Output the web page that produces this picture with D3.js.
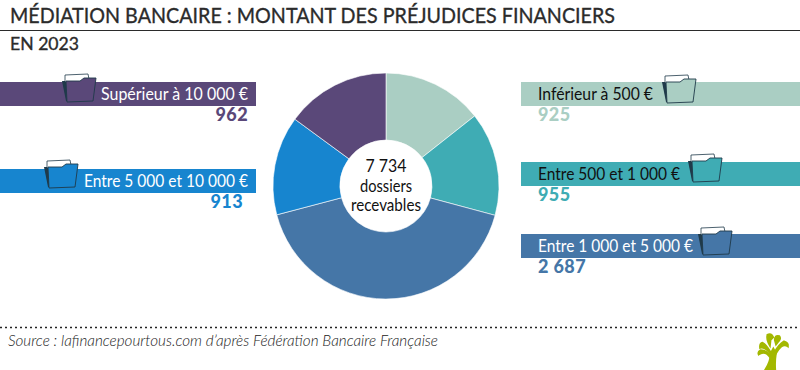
<!DOCTYPE html>
<html>
<head>
<meta charset="utf-8">
<script src="https://cdn.jsdelivr.net/npm/d3@7"></script>
<style>
  html, body { margin: 0; padding: 0; background: #fff; }
  svg { display: block; }
  text { font-family: Lato, "Open Sans", sans-serif; }
</style>
</head>
<body>
<script>
// tranches, in pie order (clockwise from 12 o'clock)
var categories = ["Inférieur à 500 €", "Entre 500 et 1 000 €", "Entre 1 000 et 5 000 €", "Entre 5 000 et 10 000 €", "Supérieur à 10 000 €"];
var values = [925, 955, 2687, 913, 962];
var valueLabels = ["925", "955", "2 687", "913", "962"];
var colors = ["#aacec3", "#3facb4", "#4576a7", "#1785cf", "#5a4879"];
var inkColors = ["#111", "#111", "#fff", "#fff", "#fff"];
var centerLines = ["7 734", "dossiers", "recevables"];

var width = 800, height = 370;

var svg = d3.select("body").append("svg")
    .attr("width", width)
    .attr("height", height);

// title block
svg.append("text")
    .attr("x", 10).attr("y", 23)
    .attr("textLength", 605).attr("lengthAdjust", "spacingAndGlyphs")
    .style("font-size", "22px").style("fill", "#2b2b2b")
    .style("stroke", "#2b2b2b").style("stroke-width", 0.35)
    .text("MÉDIATION BANCAIRE : MONTANT DES PRÉJUDICES FINANCIERS");
svg.append("line")
    .attr("x1", 0).attr("x2", width).attr("y1", 30.5).attr("y2", 30.5)
    .style("stroke", "#2b2b2b").style("stroke-width", 1);
svg.append("text")
    .attr("x", 10).attr("y", 50)
    .attr("textLength", 69).attr("lengthAdjust", "spacingAndGlyphs")
    .style("font-size", "18px").style("fill", "#2b2b2b")
    .style("stroke", "#2b2b2b").style("stroke-width", 0.35)
    .text("EN 2023");

// donut
var pie = d3.pie().sort(null).value(function(d) { return d; });
var arc = d3.arc().innerRadius(46).outerRadius(113);

var donut = svg.append("g").attr("transform", "translate(386,186)");

donut.selectAll("path")
    .data(pie(values))
  .enter().append("path")
    .attr("d", arc)
    .style("fill", function(d, i) { return colors[i]; })
    .style("stroke", "#fff")
    .style("stroke-width", 0.6);

var centerY = [-14, 6, 25], centerW = [41, 52, 70];
donut.selectAll("text")
    .data(centerLines)
  .enter().append("text")
    .attr("text-anchor", "middle")
    .attr("y", function(d, i) { return centerY[i]; })
    .attr("textLength", function(d, i) { return centerW[i]; })
    .attr("lengthAdjust", "spacingAndGlyphs")
    .style("font-size", "17.5px")
    .style("fill", "#111")
    .text(function(d) { return d; });

// legend rows: index into the arrays, and where the row sits
var rows = [
  { i: 4, left: true,  y: 82,  barW: 256, textX: 248, textW: 147, valX: 248, folderX: 62,  folderY: 74 },
  { i: 3, left: true,  y: 169, barW: 256, textX: 248, textW: 164, valX: 243, folderX: 44,  folderY: 160 },
  { i: 0, left: false, y: 82,  barW: 279, textX: 538, textW: 115, valX: 538, folderX: 662, folderY: 75 },
  { i: 1, left: false, y: 162, barW: 279, textX: 538, textW: 142, valX: 538, folderX: 688, folderY: 154 },
  { i: 2, left: false, y: 234, barW: 279, textX: 538, textW: 155, valX: 538, folderX: 698, folderY: 227 }
];

rows.forEach(function(r) {
  var anchor = r.left ? "end" : "start";

  svg.append("rect")
      .attr("x", r.left ? 0 : 521)
      .attr("y", r.y)
      .attr("width", r.barW)
      .attr("height", 24)
      .style("fill", colors[r.i]);

  svg.append("text")
      .attr("x", r.textX).attr("y", r.y + 18)
      .attr("text-anchor", anchor)
      .attr("textLength", r.textW).attr("lengthAdjust", "spacingAndGlyphs")
      .style("font-size", "16.5px")
      .style("fill", inkColors[r.i])
      .text(categories[r.i]);

  svg.append("text")
      .attr("x", r.valX).attr("y", r.y + 39)
      .attr("text-anchor", anchor)
      .style("font-size", "18px")
      .style("font-weight", 900)
      .style("letter-spacing", "0.4px")
      .style("fill", colors[r.i])
      .text(valueLabels[r.i]);

  // little open folder sitting on the bar
  var f = svg.append("g").attr("transform", "translate(" + r.folderX + "," + r.folderY + ")");
  f.append("path").attr("d", "M0,7 L4,27 L6,27 L4,7 Z").style("fill", "#1f3a4a");
  f.append("path").attr("d", "M3,8 L3,1 L26,0 L27,5 L20,8 Z")
      .style("fill", "#fff").style("stroke", "#1f3a4a").style("stroke-width", 0.8);
  f.append("path").attr("d", "M4,7 L18,7 L22,4 L34,4 L31,27 L5,28 Z")
      .style("fill", colors[r.i]).style("stroke", "#1f3a4a").style("stroke-width", 0.9);
});

// source + dotted rule
svg.append("line")
    .attr("x1", 0).attr("x2", width).attr("y1", 327.5).attr("y2", 327.5)
    .style("stroke", "#222").style("stroke-width", 1.5).style("stroke-dasharray", "2,3");
svg.append("text")
    .attr("x", 8).attr("y", 346)
    .attr("textLength", 430).attr("lengthAdjust", "spacingAndGlyphs")
    .style("font-size", "15px").style("font-style", "italic").style("font-weight", 300)
    .style("fill", "#222")
    .text("Source : lafinancepourtous.com d’après Fédération Bancaire Française");

// tree logo, drawn at 3x
var tree = svg.append("g").attr("transform", "translate(740,320) scale(0.3333)")
    .style("fill", "#a3b800").style("stroke", "#a3b800").style("stroke-width", 5);
tree.append("path").attr("d", "M75,150 Q92,125 92,100 L100,85 L108,100 Q104,125 106,150 Z");
tree.append("path").attr("d", "M95,112 Q80,90 62,90 Q52,95 56,104 Q66,96 76,100 Q86,104 95,120 Z");
tree.append("path").attr("d", "M93,98 Q78,72 68,68 Q58,70 60,84 Q74,78 93,104 Z");
tree.append("path").attr("d", "M90,78 Q78,58 82,44 Q94,38 100,52 L92,60 Z");
tree.append("path").attr("d", "M104,60 Q104,44 118,48 Q124,56 116,64 L108,74 Z");
tree.append("path").attr("d", "M104,96 Q116,74 132,64 Q146,68 144,80 Q134,72 124,80 Q114,88 106,104 Z");
</script>
</body>
</html>
